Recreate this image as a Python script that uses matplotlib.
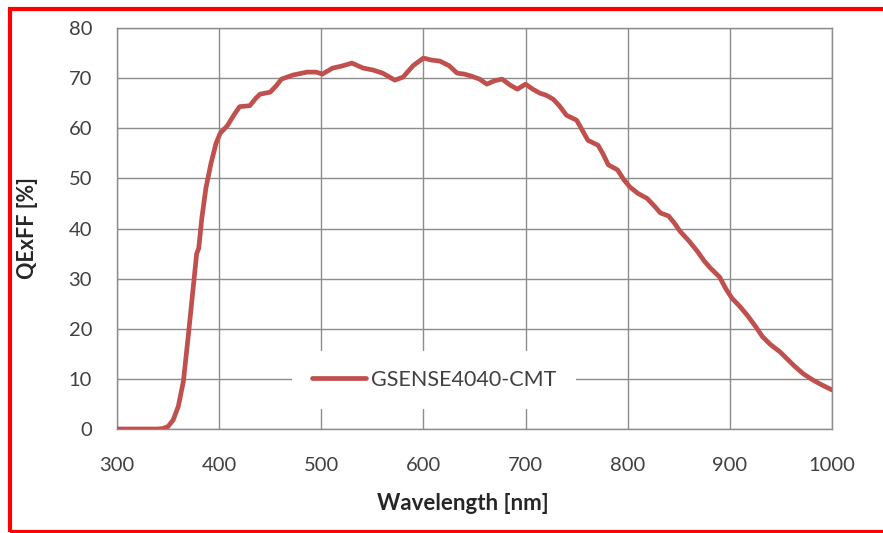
import matplotlib
matplotlib.use("Agg")
import matplotlib.pyplot as plt
from matplotlib.patches import Rectangle

wavelength = [300, 310, 320, 330, 340, 345, 350, 355, 360, 365, 370, 375, 378, 380,
              383, 387, 392, 397, 401, 408, 414, 420, 430, 436, 440, 450, 456, 461,
              472, 486, 495, 501, 511, 520, 530, 541, 551, 560, 572, 580, 590, 600,
              608, 616, 625, 633, 640, 647, 655, 662, 670, 677, 685, 692, 700, 707,
              714, 720, 727, 733, 740, 750, 755, 761, 771, 776, 781, 790, 796, 802,
              810, 819, 826, 832, 840, 846, 851, 860, 868, 875, 881, 890, 896, 902,
              910, 917, 925, 932, 940, 949, 957, 964, 972, 981, 990, 1000]
qe = [0, 0, 0, 0, 0, 0.1, 0.5, 1.8, 4.5, 9.5, 19, 29, 35, 36,
      42, 48, 53, 57, 59, 60.5, 62.5, 64.3, 64.5, 66, 66.8, 67.2, 68.5, 69.8,
      70.6, 71.2, 71.2, 70.8, 72, 72.4, 73, 72, 71.6, 71, 69.6, 70.2, 72.5, 74,
      73.6, 73.4, 72.5, 71, 70.8, 70.4, 69.8, 68.8, 69.5, 69.8, 68.6, 67.8, 68.8, 67.8,
      67, 66.6, 65.8, 64.5, 62.6, 61.6, 59.8, 57.6, 56.6, 54.8, 52.7, 51.7, 49.8, 48.3,
      47, 46, 44.5, 43.1, 42.5, 41, 39.5, 37.5, 35.5, 33.5, 32.1, 30.3, 28, 26.1,
      24.4, 22.7, 20.5, 18.4, 16.8, 15.4, 13.8, 12.4, 11, 9.8, 8.8, 7.8]
series_name = "GSENSE4040-CMT"
x_ticks = [300, 400, 500, 600, 700, 800, 900, 1000]
y_ticks = [0, 10, 20, 30, 40, 50, 60, 70, 80]

plt.rcParams['font.family'] = ['Lato', 'DejaVu Sans']

fig = plt.figure(figsize=(8.83, 5.33), dpi=100)
ax = fig.add_axes([117/883, 1-429/533, (832-117)/883, (429-28)/533])

ax.plot(wavelength, qe, color='#c0504d', lw=3.4, solid_capstyle='round',
        solid_joinstyle='round', label=series_name, zorder=3)

ax.set_xlim(300, 1000)
ax.set_ylim(0, 80)
ax.set_xticks(x_ticks)
ax.set_yticks(y_ticks)
ax.grid(True, color='#8c8c8c', lw=1.0)
ax.set_axisbelow(True)
for s in ax.spines.values():
    s.set_color('#8c8c8c')
    s.set_linewidth(1.0)
ax.tick_params(length=0, labelsize=14.5, labelcolor='#404040')
ax.tick_params(axis='y', pad=18)
ax.tick_params(axis='x', pad=20)

ax.set_xlabel("Wavelength [nm]", fontsize=16, fontweight='bold', color='#262626')
ax.set_ylabel("QExFF [%]", fontsize=15.5, fontweight='bold', color='#262626')
ax.xaxis.set_label_coords((463-117)/715, -(493-429)/401)
ax.yaxis.set_label_coords(-(117-38)/715, (429-228)/401)

leg = ax.legend(loc='center', bbox_to_anchor=((434-117)/715, (429-380)/401),
                frameon=True, fancybox=False, framealpha=1, facecolor='white',
                edgecolor='none', fontsize=15.5, handlelength=2.5, handletextpad=0.25,
                borderpad=0.9, borderaxespad=0)
for t in leg.get_texts():
    t.set_color('#404040')

fig.patches.append(Rectangle((9.5/883, 1-531.5/533), 1.0, (531.5-8.5)/533,
                             transform=fig.transFigure, fill=False,
                             edgecolor='#ff0000', lw=3, clip_on=False))

fig.savefig("out.png", dpi=100)
